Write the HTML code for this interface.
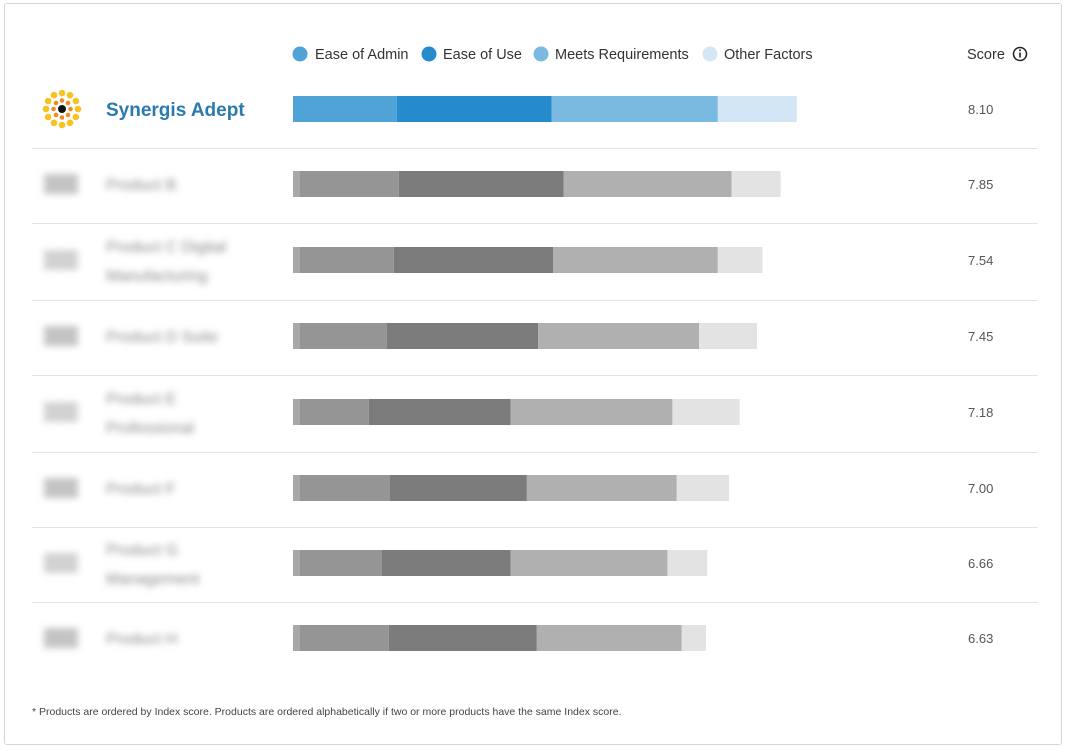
<!DOCTYPE html>
<html><head><meta charset="utf-8"><style>
body{margin:0;background:#fff;font-family:"Liberation Sans",sans-serif}
#card{position:absolute;left:4px;top:3px;width:1058px;height:742px;border:1px solid #d6d6d6;border-radius:3px;box-sizing:border-box}
</style></head><body>
<div id="card"></div>
<svg id="chart" width="1069" height="750" style="position:absolute;left:0;top:0">
<defs><filter id="bl" x="-20%" y="-50%" width="140%" height="200%"><feGaussianBlur stdDeviation="3.5"/></filter></defs>
<g font-size="14.5" fill="#333">
<circle cx="300" cy="54" r="7.5" fill="#4fa3d6"/><text x="315" y="59">Ease of Admin</text>
<circle cx="429" cy="54" r="7.5" fill="#258bcc"/><text x="443" y="59">Ease of Use</text>
<circle cx="541" cy="54" r="7.5" fill="#7ab9e0"/><text x="555" y="59">Meets Requirements</text>
<circle cx="710" cy="54" r="7.5" fill="#d3e6f5"/><text x="724" y="59">Other Factors</text>
<text x="967" y="59">Score</text>
<circle cx="1020" cy="54" r="6.5" fill="none" stroke="#222" stroke-width="1.5"/>
<rect x="1019.2" y="52.5" width="1.6" height="5" fill="#222"/><circle cx="1020" cy="50.2" r="1" fill="#222"/>
</g>
<g id="rows"></g>
<text x="32" y="715" font-size="10.5" fill="#444">* Products are ordered by Index score. Products are ordered alphabetically if two or more products have the same Index score.</text>
</svg>
<script>
const products=["Synergis Adept","Product B","Product C Digital Manufacturing","Product D Suite","Product E Professional","Product F","Product G Management","Product H"];
const easeAdmin=[1.67,1.70,1.62,1.51,1.22,1.56,1.43,1.54];
const easeUse=[2.49,2.65,2.56,2.43,2.28,2.20,2.07,2.38];
const meetsReq=[2.67,2.70,2.65,2.59,2.60,2.41,2.52,2.33];
const otherFactors=[1.27,0.79,0.72,0.93,1.08,0.84,0.64,0.39];
const scores=["8.10","7.85","7.54","7.45","7.18","7.00","6.66","6.63"];
const ns="http://www.w3.org/2000/svg";
const x0=293,pxPerUnit=62.2;
const xs=v=>x0+v*pxPerUnit;
const rowY=[109,184,260,336,412,488,563,638];
const sepY=[148,223,300,375,452,527,602];
const g=document.getElementById('rows');
function mk(t,a){const e=document.createElementNS(ns,t);for(const k in a)e.setAttribute(k,a[k]);g.appendChild(e);return e;}
sepY.forEach(y=>{const l=mk('rect',{x:32,y:y,width:1006,height:1,fill:'#e4e4e4'});

});
const blue=['#4fa3d6','#258bcc','#7ab9e0','#d3e6f5'],grey=['#959595','#7b7b7b','#b0b0b0','#e3e3e3'];
products.forEach((p,i)=>{
 const cy=rowY[i];const vals=[easeAdmin[i],easeUse[i],meetsReq[i],otherFactors[i]];
 const cols=i===0?blue:grey;let acc=0;
 const segNames=['ease-of-admin','ease-of-use','meets-requirements','other-factors'];
 vals.forEach((v,k)=>{const r=mk('rect',{x:xs(acc),y:cy-13,width:v*pxPerUnit,height:26,fill:cols[k]});
  
  acc+=v;});
 if(i>0){const s=mk('rect',{x:x0,y:cy-13,width:7,height:26,fill:'#a8a8a8'});
  
  }
 const sc=mk('text',{x:968,y:cy+5,'font-size':13,fill:'#555'});sc.textContent=scores[i];
 
 
 if(i===0){
  const nm=mk('text',{x:106,y:cy+7,'font-size':19,fill:'#2a7ab0','font-weight':'bold'});nm.textContent=p;
  
  
  for(let a=0;a<12;a++){const an=a*Math.PI/6;const c=mk('circle',{cx:62+16*Math.cos(an),cy:cy+16*Math.sin(an),r:3.3,fill:'#f6c321'});
   
   }
  for(let a=0;a<8;a++){const an=a*Math.PI/4;const c=mk('circle',{cx:62+8.5*Math.cos(an),cy:cy+8.5*Math.sin(an),r:2.3,fill:'#ef8c1f'});
   
   }
  const c=mk('circle',{cx:62,cy:cy,r:4,fill:'#111'});
  
  
 }else{
  const lg=mk('rect',{x:44,y:cy-10,width:34,height:20,fill:i%2?'#c4c4c4':'#d2d2d2',filter:'url(#bl)'});
  
  
  const words=p.length>18?[p.slice(0,p.lastIndexOf(' ')),p.slice(p.lastIndexOf(' ')+1)]:[p];
  words.forEach((w,j)=>{const t=mk('text',{x:106,y:cy+6+(words.length>1?(j?15:-14):0),'font-size':16,fill:'#888',filter:'url(#bl)'});t.textContent=w;
   
   });
 }
});
</script>
</body></html>
